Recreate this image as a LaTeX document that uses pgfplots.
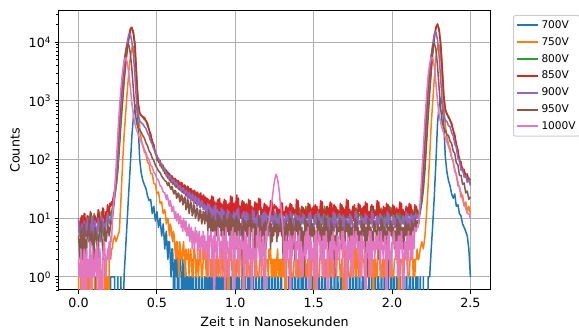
\documentclass[border=0pt]{standalone}
\usepackage{pgfplots}
\pgfplotsset{compat=1.18}
\usepackage{pgfplotstable}
\usepackage{fontspec}
\setmainfont{DejaVu Sans}
\definecolor{cA}{HTML}{1F77B4}
\definecolor{cB}{HTML}{FF7F0E}
\definecolor{cC}{HTML}{2CA02C}
\definecolor{cD}{HTML}{D62728}
\definecolor{cE}{HTML}{9467BD}
\definecolor{cF}{HTML}{8C564B}
\definecolor{cG}{HTML}{E377C2}
\definecolor{gridc}{HTML}{B0B0B0}
\definecolor{legc}{HTML}{CCCCCC}

% x in units of 1e-8 s; columns: 700V 750V 800V 850V 900V 950V 1000V
\pgfplotstableread{
x L O G R P B K
0.000 0 1 6 9 10 5 2
0.005 0 0 8 6 5 3 1
0.010 0 0 9 5 7 2 1
0.015 0 2 4 10 4 6 3
0.020 0 2 5 11 8 7 2
0.025 0 1 11 7 6 2 0
0.030 0 1 10 6 4 3 1
0.035 0 0 6 12 9 8 3
0.040 1 0 7 12 8 6 2
0.045 0 1 5 5 5 1 0
0.050 0 0 5 8 6 2 3
0.055 0 2 9 11 10 6 1
0.060 0 2 11 9 7 5 2
0.065 0 0 4 6 4 9 1
0.070 0 1 7 5 5 7 2
0.075 0 0 12 13 8 3 4
0.080 0 0 8 12 6 4 0
0.085 0 1 5 7 11 6 2
0.090 0 1 6 8 9 5 3
0.095 0 2 10 6 4 2 1
0.100 0 3 12 7 6 3 1
0.105 0 0 6 11 9 7 2
0.110 1 0 7 10 7 6 3
0.115 0 1 5 9 5 4 1
0.120 0 1 4 8 6 3 4
0.125 0 2 10 14 10 2 1
0.130 0 2 9 13 8 5 0
0.135 0 0 7 7 5 6 3
0.140 1 0 8 8 4 8 2
0.145 0 1 13 10 11 9 1
0.150 0 1 12 9 10 4 0
0.155 0 0 6 15 7 3 2
0.160 0 0 5 14 6 2 3
0.165 0 2 9 8 8 7 4
0.170 1 2 8 9 5 6 2
0.175 0 1 12 13 9 4 1
0.180 0 0 11 12 10 5 2
0.185 0 1 8 17 12 8 3
0.190 1 0 9 15 11 7 2
0.195 0 2 14 11 8 5 4
0.200 0 3 13 18 9 6 2
0.205 1 2 11 16 10 9 5
0.210 1 3 12 19 11 8 4
0.215 1 3 15 17 12 10 8
0.22 1 4 18 22 14 12 15
0.23 1 5 25 30 22 25 30
0.24 0 4 35 40 35 50 80
0.25 1 5 60 75 80 150 250
0.26 0 6 150 180 250 450 700
0.27 1 20 380 500 700 1100 1600
0.28 0 80 900 1100 1600 2400 3000
0.29 1 250 2000 2400 3500 4500 4700
0.30 3 600 4000 4500 6500 7000 5500
0.31 9 1400 7000 8000 10000 9300 4600
0.32 28 3000 11000 12500 13500 9000 3000
0.33 80 5500 15500 17000 14000 6500 1700
0.34 250 8000 17500 18000 10000 3500 900
0.35 550 8500 15000 13500 6000 1500 560
0.36 800 5500 9500 8000 2500 700 400
0.37 880 2200 3000 2400 900 420 320
0.38 400 800 950 900 560 350 270
0.39 100 350 620 620 460 320 232
0.40 58 220 560 565 420 288 198
0.41 44 168 540 520 405 255 176
0.42 37 136 478 525 362 232 148
0.43 32 122 462 455 340 192 131
0.44 24 90 372 420 284 172 108
0.45 20 84 330 315 252 140 98
0.46 21 58 238 275 205 128 80
0.47 12 57 218 198 182 106 74
0.48 16 39 152 182 150 96 61
0.49 9 38 140 125 134 80 56
0.50 13 26 98 118 112 72 47
0.51 7 28 104 90 104 64 44
0.52 10 18 78 96 88 60 36
0.53 5 19 86 72 82 52 34
0.54 8 12 64 80 72 48 28
0.55 3 14 72 58 66 44 27
0.555 5 11 60 64 62 43 24
0.560 6 8 52 66 58 42 21
0.565 3 10 63 55 54 38 25
0.570 2 10 61 48 56 36 22
0.575 4 7 49 59 48 41 18
0.580 4 5 44 57 49 37 16
0.585 2 8 55 46 53 33 20
0.590 1 7 52 41 47 31 17
0.595 3 5 42 53 43 35 13
0.600 3 4 38 50 42 32 14
0.605 1 6 48 42 46 27 16
0.610 0 5 47 37 44 26 12
0.615 2 3 36 48 38 30 10
0.620 2 2 34 46 37 29 13
0.625 1 4 45 35 41 22 9
0.630 3 4 43 33 39 23 11
0.635 0 2 33 44 32 27 12
0.640 1 1 31 42 33 26 8
0.645 2 4 40 31 36 19 10
0.650 2 3 39 30 35 20 11
0.655 1 2 29 41 29 25 7
0.660 0 2 28 40 30 24 9
0.665 2 3 37 28 33 17 6
0.670 1 4 36 27 32 18 10
0.675 0 2 27 37 27 23 8
0.680 2 1 26 36 26 22 6
0.685 1 3 34 24 30 14 9
0.690 0 2 33 25 29 15 5
0.695 1 2 25 35 22 21 7
0.700 1 3 24 34 24 20 5
0.705 0 1 32 22 28 12 8
0.710 1 2 31 23 27 14 4
0.715 1 3 23 32 20 19 6
0.720 0 2 22 31 21 18 7
0.725 1 1 30 20 26 11 3
0.730 2 1 29 21 25 12 6
0.735 0 3 21 29 18 17 5
0.740 0 3 20 30 19 16 3
0.745 1 2 28 18 24 10 7
0.750 1 1 27 19 23 11 4
0.755 0 2 19 28 16 15 6
0.760 0 2 18 27 17 14 2
0.765 1 1 26 17 22 9 5
0.770 1 2 25 18 21 10 6
0.775 0 3 18 26 15 14 3
0.780 0 2 17 27 16 13 4
0.785 1 1 24 16 20 8 5
0.790 1 1 23 17 19 9 2
0.795 0 2 16 25 14 13 6
0.800 0 3 17 24 15 12 3
0.805 1 2 21 15 17 8 5
0.810 0 2 14 23 12 13 2
0.815 1 1 20 14 16 9 4
0.820 0 3 15 22 11 11 3
0.825 1 1 19 12 18 6 6
0.830 0 3 12 21 10 14 1
0.835 1 2 18 13 17 7 5
0.840 0 2 13 20 12 12 4
0.845 1 1 21 16 15 5 6
0.850 0 2 14 24 10 10 2
0.855 1 1 22 15 14 6 3
0.860 0 3 12 23 9 11 5
0.865 1 2 18 12 16 8 0
0.870 0 2 11 19 9 4 6
0.875 2 1 17 11 17 9 4
0.880 0 2 10 18 8 5 3
0.885 1 3 20 14 14 12 2
0.890 0 1 10 21 11 6 7
0.895 1 2 19 13 13 11 5
0.900 0 2 9 22 10 7 4
0.905 1 1 16 11 8 10 1
0.910 0 2 11 18 15 5 4
0.915 1 3 15 12 7 9 3
0.920 0 1 12 17 14 4 6
0.925 1 2 19 13 10 11 2
0.930 0 4 9 21 13 3 5
0.935 1 1 18 12 9 12 0
0.940 0 3 8 20 12 4 7
0.945 1 1 15 10 7 9 3
0.950 0 2 11 17 14 6 4
0.955 1 0 14 9 6 10 2
0.960 0 1 10 18 13 5 1
0.965 0 2 18 12 9 12 5
0.970 1 3 8 24 12 4 2
0.975 1 3 17 11 8 11 6
0.980 0 1 9 23 11 3 3
0.985 0 1 14 9 6 10 7
0.990 1 2 10 18 13 5 0
0.995 1 2 13 8 7 9 5
1.000 0 1 11 19 12 6 3
1.005 0 1 17 13 8 11 4
1.010 1 2 7 25 14 3 5
1.015 1 2 16 12 9 10 2
1.020 0 1 8 22 15 2 6
1.025 1 3 13 11 9 9 1
1.030 0 2 16 16 5 7 2
1.035 0 4 14 10 8 8 4
1.040 1 1 15 17 6 6 5
1.045 2 1 9 20 12 2 3
1.050 0 0 14 10 10 10 4
1.055 0 2 8 19 13 3 0
1.060 1 2 13 9 9 9 6
1.065 1 4 11 17 7 6 2
1.070 0 1 18 12 13 8 5
1.075 0 3 12 16 6 5 3
1.080 1 2 17 11 12 9 1
1.085 0 2 8 21 6 4 4
1.090 1 1 15 9 11 12 7
1.095 1 1 9 20 7 3 2
1.100 0 2 14 8 10 11 3
1.105 0 1 10 16 9 6 0
1.110 1 3 13 13 14 9 6
1.115 1 2 9 15 8 7 4
1.120 0 2 14 12 13 8 2
1.125 0 1 7 19 5 3 3
1.130 1 2 16 10 10 8 1
1.135 1 2 8 18 6 2 5
1.140 0 1 15 11 11 7 4
1.145 0 1 12 15 12 5 7
1.150 1 1 9 22 7 11 3
1.155 1 2 11 14 11 4 2
1.160 0 3 8 21 8 10 6
1.165 0 4 15 11 11 4 1
1.170 1 2 11 14 6 7 2
1.175 1 2 14 12 12 5 4
1.180 0 1 12 13 7 8 5
1.185 0 1 6 18 13 2 3
1.190 1 1 14 9 8 9 0
1.195 1 2 7 17 12 3 6
1.200 0 2 13 10 9 8 4
1.205 0 2 10 16 11 6 7
1.210 1 1 13 12 5 10 8
1.215 1 3 11 15 10 7 9
1.220 0 2 12 13 6 9 11
1.225 0 3 8 20 12 3 13
1.230 1 1 15 10 9 8 16
1.235 1 2 9 19 11 4 21
1.240 0 1 14 11 8 7 27
1.245 0 2 11 14 7 5 35
1.250 1 1 9 17 13 9 43
1.255 1 2 10 15 8 6 51
1.260 0 1 10 16 12 8 56
1.265 0 2 14 11 6 4 52
1.270 1 3 10 15 10 8 46
1.275 1 1 13 12 7 5 37
1.280 0 2 11 14 9 7 29
1.285 0 1 7 12 12 6 21
1.290 1 2 15 19 8 10 16
1.295 1 1 8 13 11 5 12
1.300 0 2 14 18 9 9 8
1.305 0 1 11 10 11 2 6
1.310 0 2 13 13 5 7 2
1.315 1 2 12 11 10 3 4
1.320 1 0 12 14 6 6 1
1.325 1 1 8 16 12 9 5
1.330 0 3 12 9 9 4 2
1.335 0 2 9 15 11 8 4
1.340 1 2 13 10 8 5 3
1.345 1 1 16 14 7 11 6
1.350 0 2 9 18 13 5 0
1.355 0 2 15 13 6 10 5
1.360 1 1 10 17 12 4 2
1.365 1 1 11 11 6 8 3
1.370 0 1 14 15 10 3 5
1.375 0 2 12 12 7 7 4
1.380 1 2 13 14 9 2 6
1.385 1 3 7 10 12 10 1
1.390 0 1 12 21 8 6 4
1.395 0 2 8 11 11 9 3
1.400 1 1 11 20 7 5 5
1.405 1 2 10 12 5 9 2
1.410 0 1 15 9 11 4 6
1.415 0 3 9 11 6 8 1
1.420 1 1 14 10 10 3 4
1.425 0 2 8 16 9 7 3
1.430 1 4 13 11 12 2 1
1.435 1 2 9 15 8 6 2
1.440 0 3 12 12 11 1 3
1.445 0 2 9 14 6 10 5
1.450 1 1 16 10 10 6 2
1.455 1 1 10 13 7 9 6
1.460 0 2 15 11 9 5 3
1.465 0 1 11 18 7 8 7
1.470 1 2 7 12 12 3 0
1.475 1 1 10 17 6 7 5
1.480 0 2 8 13 13 4 2
1.485 0 1 14 9 9 9 4
1.490 1 3 10 15 5 5 2
1.495 1 2 13 10 8 8 3
1.500 0 2 9 16 6 4 1
1.505 0 0 12 11 11 7 5
1.510 1 2 8 17 8 4 1
1.515 1 1 11 12 10 6 6
1.520 0 3 9 16 7 3 0
1.525 0 1 15 10 13 10 3
1.530 1 1 11 13 6 6 6
1.535 1 1 14 9 12 9 4
1.540 0 2 10 14 7 5 5
1.545 0 3 9 20 10 2 2
1.550 1 2 13 11 9 8 4
1.555 1 2 8 19 9 3 1
1.560 0 1 12 12 8 7 5
1.565 0 1 7 14 12 5 1
1.570 1 1 16 9 7 11 5
1.575 1 2 8 13 11 4 3
1.580 0 1 15 10 6 10 6
1.585 0 2 10 16 11 4 3
1.590 1 1 12 12 5 7 0
1.595 1 3 9 15 10 3 2
1.600 0 1 13 11 6 6 3
1.605 0 4 8 19 10 3 4
1.610 1 1 14 10 8 9 2
1.615 1 3 9 18 9 2 5
1.620 0 2 13 11 7 8 1
1.625 0 1 11 13 13 6 6
1.630 1 2 9 17 6 2 3
1.635 1 1 10 12 12 5 4
1.640 0 2 8 16 7 1 2
1.645 0 1 15 11 10 8 1
1.650 1 3 10 14 7 5 5
1.655 1 2 14 12 9 7 5
1.660 0 2 11 13 8 6 3
1.665 0 2 13 9 12 10 2
1.670 1 1 7 18 9 4 4
1.675 1 1 12 10 11 9 4
1.680 0 2 8 17 10 3 6
1.685 0 1 12 12 5 7 1
1.690 1 0 10 15 11 3 6
1.695 1 1 11 11 6 6 3
1.700 0 3 9 14 10 4 4
1.705 0 1 16 10 8 9 3
1.710 1 3 9 21 10 6 0
1.715 1 1 15 11 7 8 5
1.720 0 2 10 20 9 5 2
1.725 0 1 12 11 6 8 4
1.730 1 1 8 14 12 2 2
1.735 1 1 13 12 7 7 5
1.740 0 2 9 13 11 3 1
1.745 0 2 14 10 9 7 5
1.750 1 1 11 16 7 5 1
1.755 1 1 13 9 8 6 6
1.760 0 2 10 17 6 4 3
1.765 0 4 9 12 13 10 3
1.770 1 1 15 9 6 4 6
1.775 1 3 8 11 12 9 4
1.780 0 2 14 10 7 3 5
1.785 0 1 10 18 10 7 2
1.790 1 2 12 13 8 3 4
1.795 1 1 11 17 9 6 1
1.800 0 3 11 12 7 2 5
1.805 0 1 8 11 11 9 1
1.810 1 3 14 15 5 6 5
1.815 1 2 9 10 10 8 3
1.820 0 2 13 16 6 5 4
1.825 0 1 10 10 9 8 3
1.830 1 2 13 19 12 2 0
1.835 1 1 11 11 8 7 2
1.840 0 1 12 18 11 1 4
1.845 0 2 7 12 7 10 4
1.850 1 1 12 9 10 5 2
1.855 1 3 8 13 8 9 6
1.860 0 1 11 10 9 4 1
1.865 0 3 16 14 8 7 6
1.870 1 1 9 17 13 4 1
1.875 1 2 15 15 7 6 4
1.880 0 0 10 16 12 3 3
1.885 0 2 11 10 6 9 4
1.890 1 1 14 13 9 6 2
1.895 1 2 12 11 7 8 5
1.900 0 1 13 12 10 5 3
1.905 0 1 8 20 11 3 5
1.910 1 3 12 11 7 8 3
1.915 1 2 9 19 10 2 6
1.920 0 2 11 12 8 7 2
1.925 0 2 10 14 12 5 1
1.930 1 1 15 9 8 10 6
1.935 1 1 9 13 11 4 4
1.940 0 2 14 10 7 9 3
1.945 0 1 9 16 5 4 2
1.950 1 2 13 12 10 7 4
1.955 1 1 10 15 6 3 5
1.960 0 3 12 11 9 6 3
1.965 0 1 7 18 9 2 0
1.970 1 4 12 10 13 8 5
1.975 1 1 8 17 8 1 2
1.980 0 3 11 11 12 7 6
1.985 0 1 16 14 6 6 3
1.990 1 2 10 11 10 9 1
1.995 1 2 15 13 7 5 2
2.000 0 1 11 12 9 8 4
2.005 0 1 13 17 8 4 4
2.010 1 1 8 12 11 7 6
2.015 1 2 12 16 7 3 5
2.020 0 2 9 11 10 6 3
2.025 0 3 14 9 7 3 2
2.030 1 2 11 15 12 10 4
2.035 1 2 13 10 8 2 1
2.040 0 1 10 14 11 9 5
2.045 0 0 9 13 6 5 1
2.050 1 1 15 19 10 8 5
2.055 1 2 8 12 7 4 3
2.060 0 2 14 18 9 7 6
2.065 0 2 12 10 9 4 3
2.070 1 1 8 14 11 7 0
2.075 1 1 11 11 8 3 2
2.080 0 2 9 13 10 6 4
2.085 0 3 13 11 7 9 4
2.090 1 2 10 16 13 5 2
2.095 1 2 12 12 6 8 5
2.100 0 1 11 15 12 4 1
2.105 0 1 16 12 8 8 6
2.110 1 1 11 18 10 3 3
2.115 1 2 15 11 7 7 5
2.120 0 3 10 17 11 2 2
2.125 0 2 9 13 12 9 5
2.130 1 3 14 10 7 6 2
2.135 1 1 10 12 11 8 6
2.140 0 2 13 11 8 5 3
2.145 0 1 12 17 11 8 7
2.150 1 2 15 14 12 10 6
2.155 1 2 11 16 10 7 6
2.160 0 3 14 13 11 9 7
2.165 1 2 13 12 10 9 7
2.17 0 2 10 12 10 8 8
2.18 1 3 13 16 14 14 20
2.19 0 4 18 22 25 30 55
2.20 1 3 30 40 55 75 160
2.21 0 5 65 90 150 220 480
2.22 0 12 180 250 420 650 1200
2.23 1 35 500 700 1100 1600 2600
2.24 1 110 1300 1700 2600 3300 4300
2.25 3 400 3000 3800 5500 6000 5500
2.26 8 1000 6500 7500 9500 8800 5400
2.27 25 2500 11500 12500 14000 9500 3800
2.28 90 5500 17000 18000 15000 7500 2000
2.29 400 8500 20000 20500 11000 4000 1000
2.30 850 9000 17000 16000 6000 1700 600
2.31 1100 6000 10000 9000 2400 750 430
2.32 900 2300 4000 3500 950 430 340
2.33 400 800 1300 1200 560 350 280
2.34 110 380 720 700 470 310 240
2.35 62 250 620 585 445 265 198
2.36 44 182 515 552 378 258 168
2.37 36 155 485 462 362 205 140
2.38 26 108 378 425 290 190 110
2.39 22 94 322 315 256 140 90
2.40 26 63 228 270 186 128 70
2.41 16 56 192 178 160 88 55
2.42 17 36 124 150 106 82 42
2.43 12 35 108 92 98 54 33
2.44 11 23 72 92 66 54 27
2.45 8 25 74 62 68 38 21
2.46 7 16 54 68 50 40 17
2.47 6 19 58 50 54 27 15
2.48 5 13 43 57 41 29 12
2.49 3 16 49 43 45 21 12
2.50 1 12 38 47 36 23 10
}\data

\newcommand{\tfont}{\fontsize{12.7}{15}\selectfont}

\begin{document}
\begin{tikzpicture}
\useasboundingbox (0,0) rectangle (579pt,329pt);
\begin{axis}[
  at={(59pt,39pt)}, anchor=south west,
  scale only axis, width=431pt, height=279pt,
  ymode=log,
  xmin=-0.125, xmax=2.625, ymin=0.6, ymax=34000,
  xtick={0,0.5,1,1.5,2,2.5},
  xticklabels={0.0,0.5,1.0,1.5,2.0,2.5},
  ytick={1,10,100,1000,10000},
  yticklabels={10\textsuperscript{0},10\textsuperscript{1},10\textsuperscript{2},10\textsuperscript{3},10\textsuperscript{4}},
  minor ytick={0.6,0.7,0.8,0.9,2,3,4,5,6,7,8,9,20,30,40,50,60,70,80,90,200,300,400,500,600,700,800,900,2000,3000,4000,5000,6000,7000,8000,9000,20000,30000},
  minor xtick={},
  grid=major,
  major grid style={gridc, line width=1pt},
  tick align=outside, tick pos=left,
  major tick length=4.4pt, minor tick length=2.5pt,
  major tick style={black, line width=1pt},
  minor tick style={black, line width=0.76pt},
  axis line style={black, line width=1pt},
  tick label style={font=\tfont},
  label style={font=\tfont},
  xlabel={Zeit t in Nanosekunden},
  ylabel={Counts},
  xlabel style={at={(axis description cs:0.5,0)}, anchor=center, yshift=-32pt},
  ylabel style={at={(axis description cs:-0.102,0.5)}, anchor=center},
  legend cell align=left,
  legend image code/.code={\draw[#1, line width=2pt] (0pt,0pt) -- (21pt,0pt);},
  legend style={at={(rel axis cs:1,1)}, anchor=north west, xshift=23pt, yshift=-4pt,
    draw=legc, line width=1pt, rounded corners=2pt,
    font=\fontsize{10.6}{12}\selectfont,
    inner xsep=2pt, inner ysep=3pt, row sep=3.5pt, column sep=1pt,
    nodes={inner sep=2pt}},
  every axis plot/.append style={line width=1.5pt, line join=round},
  clip=true,
]
\addplot[cA] table[x=x, y expr={max(\thisrow{L},0.001)}] {\data};
\addplot[cB] table[x=x, y expr={max(\thisrow{O},0.001)}] {\data};
\addplot[cC] table[x=x, y expr={max(\thisrow{G},0.001)}] {\data};
\addplot[cD] table[x=x, y expr={max(\thisrow{R},0.001)}] {\data};
\addplot[cE] table[x=x, y expr={max(\thisrow{P},0.001)}] {\data};
\addplot[cF] table[x=x, y expr={max(\thisrow{B},0.001)}] {\data};
\addplot[cG] table[x=x, y expr={max(\thisrow{K},0.001)}] {\data};
\legend{700V,750V,800V,850V,900V,950V,1000V}
\node[anchor=north east, inner sep=0pt, font=\tfont] at (rel axis cs:1,0) [yshift=-26pt] {1e−8};
\end{axis}
\end{tikzpicture}
\end{document}
